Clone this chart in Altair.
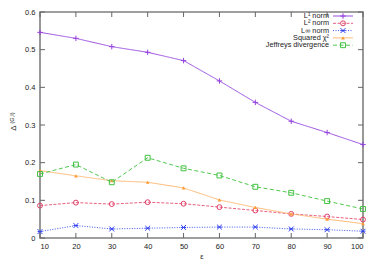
import altair as alt
import pandas as pd

eps = [10, 20, 30, 40, 50, 60, 70, 80, 90, 100]
l1_norm = [0.546, 0.530, 0.508, 0.493, 0.471, 0.417, 0.360, 0.310, 0.280, 0.248]
l2_norm = [0.086, 0.094, 0.090, 0.095, 0.091, 0.082, 0.073, 0.064, 0.057, 0.049]
linf_norm = [0.017, 0.033, 0.024, 0.026, 0.028, 0.029, 0.029, 0.024, 0.022, 0.018]
chi2 = [0.179, 0.165, 0.152, 0.148, 0.133, 0.101, 0.081, 0.064, 0.050, 0.038]
jeffreys = [0.170, 0.195, 0.148, 0.213, 0.185, 0.166, 0.136, 0.120, 0.098, 0.077]

x_ticks = [10, 20, 30, 40, 50, 60, 70, 80, 90, 100]
y_ticks = [0, 0.1, 0.2, 0.3, 0.4, 0.5, 0.6]

labels = ["L¹ norm", "L² norm", "L∞ norm", "Squared χ²", "Jeffreys divergence"]
series_values = [l1_norm, l2_norm, linf_norm, chi2, jeffreys]

# styles
colors = ["#9440dc", "#e0406a", "#3344ee", "#ff9a30", "#40c040"]
line_colors = ["#9a50e0", "#e86080", "#4455ee", "#ffbb77", "#50c850"]
dashes = [[1, 0], [3, 1.5], [1, 1.5], [1, 0], [4, 2.5]]
shapes = ["M-1,0L1,0M0,-1L0,1", "circle", "M-1,-1L1,1M-1,1L1,-1M-1,0L1,0", "triangle-up", "square"]
filled = [False, False, False, True, False]
sizes = [30, 24, 24, 14, 24]

W, H = 323, 226
FONT = "Liberation Sans"
FS = 7.5

xscale = alt.Scale(domain=[10, 100], nice=False, zero=False)
yscale = alt.Scale(domain=[0, 0.6], nice=False)
xaxis = alt.Axis(values=x_ticks, format="d", labelOverlap=False, title="ε")
yaxis = alt.Axis(values=y_ticks, labelOverlap=False, title=None,
                 labelExpr="datum.value == 0 ? '0' : format(datum.value, '.1f')")


def X(field):
    return alt.X(field, scale=xscale, axis=xaxis)


def Y(field):
    return alt.Y(field, scale=yscale, axis=yaxis)


layers = []

# mirror inside ticks
ydf = pd.DataFrame({"val": y_ticks})
xdf = pd.DataFrame({"eps": x_ticks})
tick_color = "#666666"
layers.append(alt.Chart(ydf).mark_rule(color=tick_color, strokeWidth=1).encode(
    y=Y("val:Q"), x=alt.value(0), x2=alt.value(5)))
layers.append(alt.Chart(ydf).mark_rule(color=tick_color, strokeWidth=1).encode(
    y=Y("val:Q"), x=alt.value(W - 5), x2=alt.value(W)))
layers.append(alt.Chart(xdf).mark_rule(color=tick_color, strokeWidth=1).encode(
    x=X("eps:Q"), y=alt.value(H - 5), y2=alt.value(H)))
layers.append(alt.Chart(xdf).mark_rule(color=tick_color, strokeWidth=1).encode(
    x=X("eps:Q"), y=alt.value(0), y2=alt.value(5)))

for i, (lab, vals) in enumerate(zip(labels, series_values)):
    df = pd.DataFrame({"eps": eps, "val": vals})
    base = alt.Chart(df).encode(x=X("eps:Q"), y=Y("val:Q"))
    layers.append(base.mark_line(color=line_colors[i], strokeWidth=1,
                                 strokeDash=dashes[i]))
    layers.append(base.mark_point(shape=shapes[i], filled=filled[i],
                                  color=colors[i], size=sizes[i],
                                  strokeWidth=1, opacity=1))

# manual gnuplot-style legend (label left, sample right)
leg_y = [4, 11.3, 18.6, 25.9, 33.2]
for i, lab in enumerate(labels):
    ldf = pd.DataFrame({"label": [lab]})
    layers.append(alt.Chart(ldf).mark_text(align="right", baseline="middle",
                                           font=FONT, fontSize=7.3, color="#222222").encode(
        text="label:N", x=alt.value(289), y=alt.value(leg_y[i])))
    layers.append(alt.Chart(ldf).mark_rule(color=line_colors[i], strokeWidth=1,
                                           strokeDash=dashes[i]).encode(
        x=alt.value(293), x2=alt.value(313), y=alt.value(leg_y[i])))
    layers.append(alt.Chart(ldf).mark_point(shape=shapes[i], filled=filled[i],
                                            color=colors[i], size=sizes[i],
                                            strokeWidth=1, opacity=1).encode(
        x=alt.value(303), y=alt.value(leg_y[i])))

# y-axis title: Delta with superscript (G,I)
tdf = pd.DataFrame({"t": ["Δ"]})
layers.append(alt.Chart(tdf).mark_text(angle=270, font=FONT, fontSize=8,
                                       color="#222222", baseline="middle").encode(
    text="t:N", x=alt.value(-26), y=alt.value(116)))
sdf = pd.DataFrame({"t": ["(G,I)"]})
layers.append(alt.Chart(sdf).mark_text(angle=270, font=FONT, fontSize=5.5,
                                       color="#222222", baseline="middle").encode(
    text="t:N", x=alt.value(-28.5), y=alt.value(106)))

chart = alt.layer(*layers).properties(
    width=W, height=H,
    autosize=alt.AutoSizeParams(type="none"),
    padding={"left": 32, "top": 4, "right": 3, "bottom": 24},
).configure_view(stroke="#808080", strokeWidth=1.6).configure_axis(
    grid=False, domain=False, ticks=False, labelOverlap=False,
    labelFont=FONT, labelFontSize=FS, labelColor="#222222",
    titleFont=FONT, titleFontSize=FS, titleColor="#222222", titleFontWeight="normal",
).configure_axisX(labelPadding=4, titlePadding=3).configure_axisY(labelPadding=5)

chart.save("out.html", embed_options={"renderer": "svg", "actions": False})
